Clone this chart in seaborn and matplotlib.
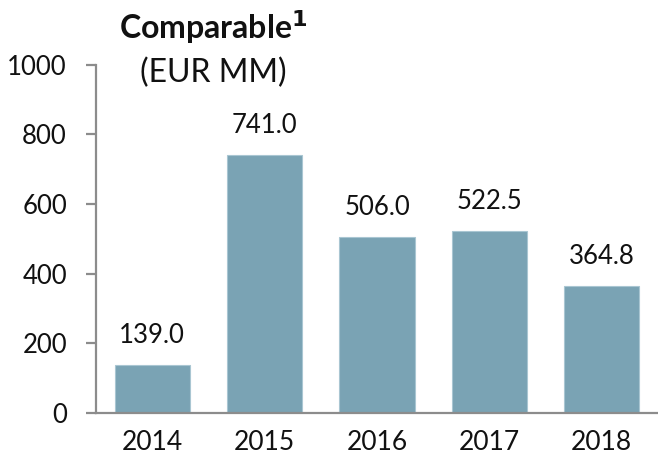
import matplotlib
matplotlib.use("Agg")
import matplotlib.pyplot as plt
import seaborn as sns
import pandas as pd
import numpy as np

years = ["2014", "2015", "2016", "2017", "2018"]
values = [139.0, 741.0, 506.0, 522.5, 364.8]
yticks = [0, 200, 400, 600, 800, 1000]

sns.set_style("white")
plt.rcParams["font.family"] = ["Lato", "DejaVu Sans"]

df = pd.DataFrame({"year": years, "value": values})

fig = plt.figure(figsize=(6.58, 4.63), dpi=100)
ax = fig.add_axes([0.146, 0.108, 0.854, 0.752])

sns.barplot(data=df, x="year", y="value", color="#7aa3b4", saturation=1,
            width=0.67, ax=ax, edgecolor="#a9c6d2", linewidth=0.8)

ax.set_xlim(-0.5, len(years) - 0.5)
ax.set_ylim(0, 1000)
ax.set_yticks(yticks)
ax.set_xlabel("")
ax.set_ylabel("")

for i, v in enumerate(values):
    ax.annotate(f"{v:.1f}", (i, v), xytext=(0, 12), textcoords="offset points",
                ha="center", va="bottom", fontsize=18.5, color="#111111")

for s in ["top", "right"]:
    ax.spines[s].set_visible(False)
for s in ["left", "bottom"]:
    ax.spines[s].set_color("#8c8c8c")
    ax.spines[s].set_linewidth(1.6)

ax.set_xticks(np.arange(-0.5, len(years), 1), minor=True)
ax.tick_params(axis="x", which="major", length=0, labelsize=19, pad=12, colors="#111111")
ax.tick_params(axis="x", which="minor", length=7, width=1.6, color="#8c8c8c", direction="out")
ax.tick_params(axis="y", which="major", length=7, width=1.6, color="#8c8c8c",
               labelsize=18.5, pad=14, labelcolor="#111111", left=True)

fig.text(0.324, 0.942, "Comparable$^\\mathbf{1}$", ha="center", va="center",
         fontsize=23, fontweight="bold", color="#111111")
fig.text(0.324, 0.842, "(EUR MM)", ha="center", va="center",
         fontsize=23, color="#111111")

fig.savefig("out.png", dpi=100)
